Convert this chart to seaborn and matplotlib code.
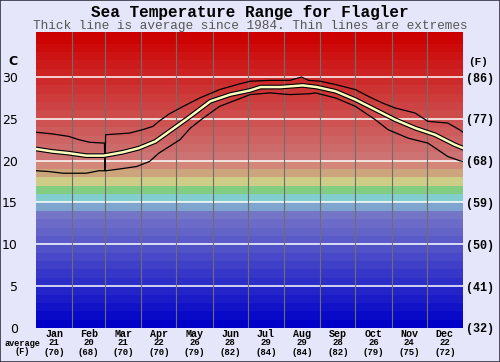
import matplotlib
matplotlib.use('Agg')
import matplotlib.pyplot as plt
import seaborn as sns
import pandas as pd
from matplotlib.patches import Rectangle

# Data (day of year, degC)
avg_days = [0, 14, 28, 43, 58, 74, 88, 102, 114, 128, 131, 149, 166, 183, 192,
            209, 228, 240, 256, 273, 290, 307, 324, 341, 358, 365]
avg_temp = [21.4, 21.1, 20.9, 20.6, 20.6, 21.0, 21.5, 22.3, 23.5, 24.9, 25.2, 27.1,
            27.9, 28.4, 28.8, 28.8, 29.0, 28.8, 28.3, 27.3, 26.1, 24.9, 23.9, 23.1,
            21.9, 21.5]

max_days = [0, 14, 28, 37, 46, 58.5, 59, 59.5, 80, 91, 100, 105, 114, 126, 140,
            157, 172, 183, 200, 217, 227, 233, 243, 256, 273, 284, 296, 307, 324,
            335, 352, 362, 365]
max_temp = [23.4, 23.2, 22.9, 22.5, 22.2, 22.1, 18.8, 23.1, 23.3, 23.7, 24.1,
            24.7, 25.6, 26.5, 27.5, 28.5, 29.1, 29.5, 29.6, 29.6, 30.0, 29.6, 29.5,
            29.1, 28.5, 27.7, 26.9, 26.3, 25.7, 24.7, 24.5, 23.7, 23.4]

min_days = [0, 11, 23, 43, 54, 60, 71, 86, 97, 105, 114, 123, 132, 143, 157, 172,
            183, 200, 217, 234, 239, 256, 273, 290, 301, 318, 335, 352, 362, 365]
min_temp = [18.8, 18.7, 18.5, 18.5, 18.8, 18.8, 19.0, 19.3, 19.9, 20.9, 21.7, 22.5,
            23.9, 25.1, 26.5, 27.3, 27.9, 28.1, 27.9, 28.0, 28.1, 27.5, 26.5, 24.9,
            23.7, 22.7, 22.1, 20.5, 20.0, 19.9]

months = ['Jan', 'Feb', 'Mar', 'Apr', 'May', 'Jun', 'Jul', 'Aug', 'Sep', 'Oct', 'Nov', 'Dec']
month_len = [31, 28, 31, 30, 31, 30, 31, 31, 30, 31, 30, 31]
month_avg_c = [21, 20, 21, 22, 26, 28, 29, 29, 28, 26, 24, 22]
month_avg_f = [70, 68, 70, 70, 79, 82, 84, 84, 82, 79, 75, 72]

c_ticks = [0, 5, 10, 15, 20, 25, 30]
f_labels = ['(32)', '(41)', '(50)', '(59)', '(68)', '(77)', '(86)']

bg = '#e6e6fa'
fig = plt.figure(figsize=(5, 3.62), dpi=100, facecolor=bg)
ax = fig.add_axes([0.072, 0.094, 0.854, 0.818])
ax.set_xlim(0, 365)
ax.set_ylim(0, 35.4)
for s in ax.spines.values():
    s.set_visible(False)


def band_color(i):
    if i < 14:
        return (9 * i / 255, 9 * i / 255, 200 / 255)
    mid = {14: (125, 165, 205), 15: (130, 205, 205), 16: (130, 205, 130),
           17: (205, 205, 135), 18: (205, 165, 125), 19: (210, 135, 120)}
    if i in mid:
        return tuple(v / 255 for v in mid[i])
    g = max(0, 115 - 8 * (i - 20))
    return (205 / 255, g / 255, g / 255)


for i in range(36):
    ax.axhspan(i, i + 1, color=band_color(i), lw=0, zorder=0)

for t in c_ticks[1:]:
    ax.axhline(t, color='white', lw=1.1, zorder=1)

edges = [sum(month_len[:k]) for k in range(1, 12)]
for e in edges:
    ax.axvline(e, color='#6e6e6e', lw=0.8, zorder=1)

df_avg = pd.DataFrame({'day': avg_days, 'temp': avg_temp})
df_max = pd.DataFrame({'day': max_days, 'temp': max_temp})
df_min = pd.DataFrame({'day': min_days, 'temp': min_temp})

sns.lineplot(data=df_max, x='day', y='temp', color='black', lw=0.9, ax=ax, zorder=3)
sns.lineplot(data=df_min, x='day', y='temp', color='black', lw=0.9, ax=ax, zorder=3)
sns.lineplot(data=df_avg, x='day', y='temp', color='black', lw=3.4, ax=ax, zorder=4)
sns.lineplot(data=df_avg, x='day', y='temp', color='#ffffc0', lw=1.8, ax=ax, zorder=5)

ax.set_xlabel('')
ax.set_ylabel('')
ax.set_xticks([])
ax.set_yticks(c_ticks)
ax.set_yticklabels([str(t) for t in c_ticks], fontsize=9, fontfamily='DejaVu Sans')
ax.tick_params(axis='y', length=0, pad=13)

ax2 = ax.twinx()
ax2.set_ylim(ax.get_ylim())
ax2.set_yticks(c_ticks)
ax2.set_yticklabels(f_labels, fontsize=8.5, fontfamily='Liberation Mono', fontweight='bold')
ax2.tick_params(axis='y', length=0, pad=2)
for s in ax2.spines.values():
    s.set_visible(False)

ax.annotate('C', xy=(0, 1), xycoords='axes fraction', xytext=(-13, -21.5),
            textcoords='offset points', ha='right', va='center', fontsize=9,
            fontweight='bold', fontfamily='DejaVu Sans')
ax.annotate('(F)', xy=(1, 1), xycoords='axes fraction', xytext=(4, -22),
            textcoords='offset points', ha='left', va='center', fontsize=8,
            fontweight='bold', fontfamily='Liberation Mono')

mono = dict(fontfamily='Liberation Mono', fontweight='bold', ha='center', va='center')
start = 0
for m, n, c, f in zip(months, month_len, month_avg_c, month_avg_f):
    mid = start + n / 2
    ax.annotate(m, xy=(mid, 0), xycoords=('data', 'axes fraction'), xytext=(0, -4),
                textcoords='offset points', fontsize=7.2, **mono)
    ax.annotate(str(c), xy=(mid, 0), xycoords=('data', 'axes fraction'), xytext=(0, -10.8),
                textcoords='offset points', fontsize=6.5, **mono)
    ax.annotate('(%d)' % f, xy=(mid, 0), xycoords=('data', 'axes fraction'), xytext=(0, -17.4),
                textcoords='offset points', fontsize=6.5, **mono)
    start += n

fig.text(0.044, 1 - 343 / 362, 'average', fontsize=6.2, **mono)
fig.text(0.044, 1 - 352 / 362, '(F)', fontsize=6.2, **mono)

fig.text(0.5, 1 - 12 / 362, 'Sea Temperature Range for Flagler', fontsize=11.5,
         fontfamily='Liberation Mono', fontweight='bold', ha='center', va='center')
fig.text(0.5, 1 - 26 / 362, 'Thick line is average since 1984. Thin lines are extremes',
         fontsize=9.2, fontfamily='Liberation Mono', color='#555555', ha='center', va='center')

fig.patches.append(Rectangle((0, 0), 1, 1, transform=fig.transFigure, fill=False,
                             edgecolor='#333344', lw=1.2))

fig.savefig('out.png', dpi=100, facecolor=bg)
